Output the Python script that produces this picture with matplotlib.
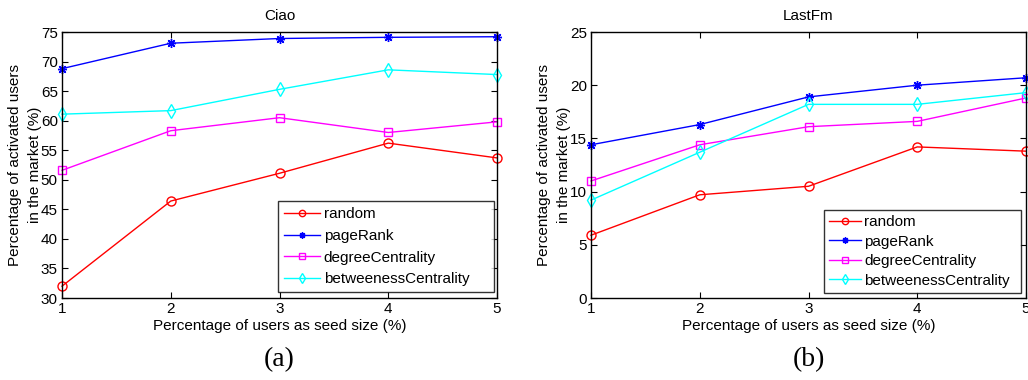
import matplotlib
matplotlib.use('agg')
import matplotlib.pyplot as plt

plt.rcParams['font.family'] = ['Liberation Sans', 'DejaVu Sans']

seed_sizes = [1, 2, 3, 4, 5]
series_names = ['random', 'pageRank', 'degreeCentrality', 'betweenessCentrality']

ciao_random = [32.0, 46.4, 51.1, 56.2, 53.7]
ciao_pagerank = [68.8, 73.1, 73.9, 74.1, 74.2]
ciao_degree = [51.6, 58.3, 60.5, 58.0, 59.8]
ciao_betweeness = [61.1, 61.7, 65.3, 68.6, 67.8]

lastfm_random = [5.9, 9.7, 10.5, 14.2, 13.8]
lastfm_pagerank = [14.4, 16.3, 18.9, 20.0, 20.7]
lastfm_degree = [11.0, 14.4, 16.1, 16.6, 18.8]
lastfm_betweeness = [9.2, 13.7, 18.2, 18.2, 19.3]

colors = ['#ff0000', '#0000ff', '#ff00ff', '#00ffff']
markers = ['o', (8, 2, 0), 's', 'd']
marker_sizes = [6.5, 6.5, 5.5, 7]


def draw_panel(ax, series, title, ylim, yticks, letter, leg_box, leg_space, leg_pad, leg_hlen):
    for vals, name, c, m, ms in zip(series, series_names, colors, markers, marker_sizes):
        ax.plot(seed_sizes, vals, color=c, marker=m, markersize=ms, lw=1.0,
                markerfacecolor='none', markeredgewidth=1.0, label=name, clip_on=False)
    ax.set_xlim(1, 5)
    ax.set_ylim(*ylim)
    ax.set_xticks(seed_sizes)
    ax.set_yticks(yticks)
    ax.tick_params(direction='in', top=True, right=True, labelsize=11, length=4, pad=3)
    for s in ax.spines.values():
        s.set_linewidth(1.0)
    ax.set_title(title, fontsize=11, pad=9)
    ax.set_xlabel('Percentage of users as seed size (%)', fontsize=11, labelpad=2)
    ax.set_ylabel('Percentage of activated users\nin the market (%)', fontsize=11,
                  labelpad=-1, linespacing=1.6)
    leg = ax.legend(loc='lower left', bbox_to_anchor=leg_box, mode='expand',
                    fontsize=11, frameon=True, fancybox=False, edgecolor='black',
                    borderaxespad=0, handlelength=leg_hlen, handletextpad=0.2,
                    labelspacing=leg_space, borderpad=leg_pad, markerscale=0.7)
    leg.get_frame().set_linewidth(1.0)
    ax.text(0.5, -0.233, letter, transform=ax.transAxes, ha='center', va='center',
            fontsize=20, family='Liberation Serif')


fig = plt.figure(figsize=(10.28, 3.8), dpi=100)
ax1 = fig.add_axes([62 / 1028, 82 / 380, 435 / 1028, 266 / 380])
ax2 = fig.add_axes([591 / 1028, 82 / 380, 435 / 1028, 266 / 380])

draw_panel(ax1, [ciao_random, ciao_pagerank, ciao_degree, ciao_betweeness],
           'Ciao', (30, 75), range(30, 76, 5), '(a)',
           (0.4966, 0.0226, 0.4966, 0.3), 0.5, 0.38, 2.4)
draw_panel(ax2, [lastfm_random, lastfm_pagerank, lastfm_degree, lastfm_betweeness],
           'LastFm', (0, 25), range(0, 26, 5), '(b)',
           (0.5356, 0.0188, 0.4529, 0.3), 0.36, 0.34, 2.1)

fig.savefig('out.png', dpi=100)
